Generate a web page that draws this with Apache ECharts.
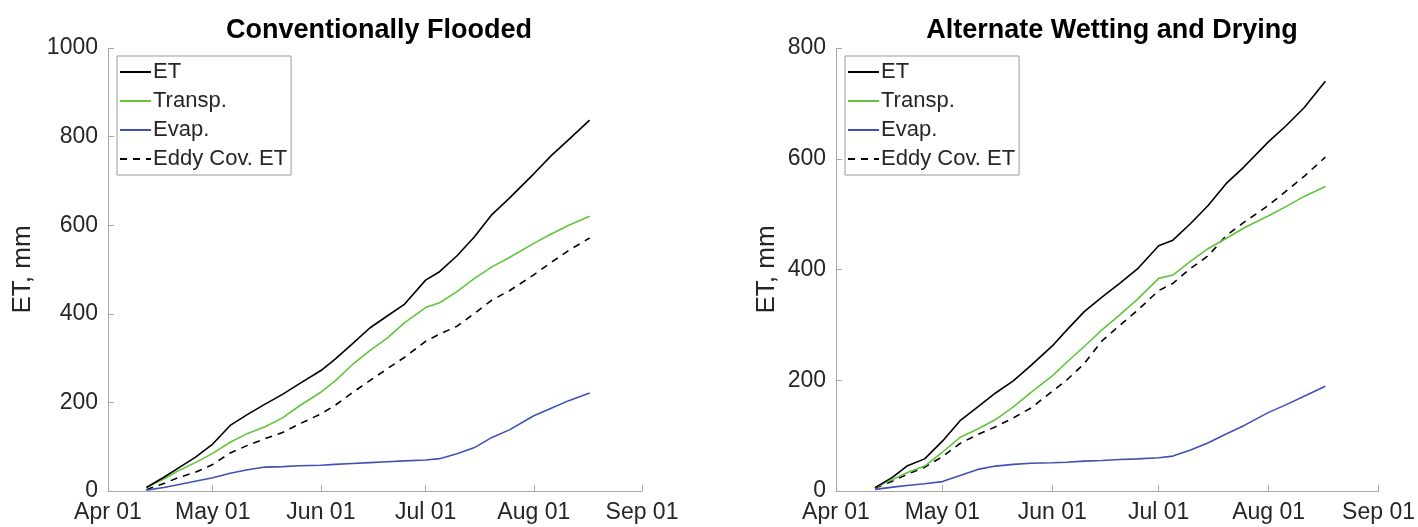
<!DOCTYPE html>
<html lang="en">
<head>
    <meta charset="UTF-8">
    <title>ET partitioning</title>
    <style>
        html, body { margin: 0; padding: 0; background: #fff; }
        #main { width: 1418px; height: 527px; }
    </style>
</head>
<body>
<div id="main"></div>
<script src="https://cdn.jsdelivr.net/npm/echarts@6/dist/echarts.min.js"></script>
<script>
    // sample dates (same for both fields), 2016 season
    var dates = ['04-12', '04-17', '04-21', '04-26', '05-01', '05-06', '05-11', '05-16', '05-21', '05-26',
        '06-01', '06-05', '06-10', '06-15', '06-20', '06-25', '07-01', '07-05', '07-10', '07-15',
        '07-20', '07-25', '08-01', '08-06', '08-11', '08-17'];
    var tickDates = ['04-01', '05-01', '06-01', '07-01', '08-01', '09-01'];
    var tickLabels = ['Apr 01', 'May 01', 'Jun 01', 'Jul 01', 'Aug 01', 'Sep 01'];
    var names = ['ET', 'Transp.', 'Evap.', 'Eddy Cov. ET'];

    // Conventionally Flooded, cumulative mm
    var cfET = [8, 31, 51, 76, 106, 148, 173, 196, 218, 243, 272, 297, 332, 368, 395, 422, 476, 495, 531, 574, 624, 661, 716, 757, 793, 837];
    var cfTransp = [8, 27, 45, 64, 85, 110, 130, 145, 165, 193, 223, 248, 285, 317, 345, 380, 414, 425, 450, 480, 506, 527, 559, 580, 600, 620];
    var cfEvap = [2, 8, 14, 22, 30, 40, 48, 54, 55, 57, 58, 60, 62, 64, 66, 68, 70, 73, 84, 98, 121, 138, 170, 187, 204, 221];
    var cfEddy = [3, 17, 30, 42, 60, 86, 103, 118, 132, 152, 174, 193, 222, 249, 276, 302, 338, 354, 372, 401, 431, 452, 488, 516, 543, 571];

    // Alternate Wetting and Drying, cumulative mm
    var awdET = [6, 25, 45, 58, 90, 127, 152, 177, 199, 227, 262, 290, 324, 350, 375, 401, 443, 453, 483, 516, 555, 585, 631, 660, 692, 740];
    var awdTransp = [6, 21, 33, 45, 70, 97, 112, 129, 152, 178, 208, 232, 261, 291, 318, 346, 384, 390, 415, 438, 456, 475, 497, 514, 532, 550];
    var awdEvap = [3, 7, 10, 13, 17, 28, 39, 45, 48, 50, 51, 52, 54, 55, 57, 58, 60, 63, 74, 87, 103, 118, 142, 156, 171, 189];
    var awdEddy = [5, 18, 30, 43, 62, 86, 102, 116, 132, 150, 180, 200, 230, 271, 299, 326, 362, 375, 402, 425, 461, 485, 516, 542, 568, 603];

    // days since Apr 01
    function dayOf(md) {
        var p = md.split('-');
        return (Date.UTC(2016, +p[0] - 1, +p[1]) - Date.UTC(2016, 3, 1)) / 86400000;
    }
    var xs = dates.map(dayOf);
    var ticks = tickDates.map(dayOf);

    function pairs(vals) {
        return vals.map(function (v, i) { return [xs[i], v]; });
    }

    var font = 'Liberation Sans, Arial, Helvetica, sans-serif';
    var axisColor = '#a8a8a8';
    var textColor = '#262626';
    var colors = ['#000000', '#62c43c', '#3f51b5', '#000000'];

    function xAxis(grid) {
        return {
            type: 'value',
            gridIndex: grid,
            min: ticks[0],
            max: ticks[ticks.length - 1],
            splitLine: { show: false },
            axisLine: { lineStyle: { color: axisColor, width: 1 } },
            axisTick: { inside: true, length: 6, customValues: ticks, lineStyle: { color: axisColor } },
            axisLabel: {
                customValues: ticks,
                margin: 10,
                fontSize: 23,
                fontFamily: font,
                color: textColor,
                formatter: function (v) { return tickLabels[ticks.indexOf(v)]; }
            }
        };
    }

    function yAxis(grid, max, gap) {
        return {
            type: 'value',
            gridIndex: grid,
            min: 0,
            max: max,
            interval: 200,
            name: 'ET, mm',
            nameLocation: 'middle',
            nameGap: gap,
            nameTextStyle: { fontSize: 26, fontFamily: font, color: textColor },
            splitLine: { show: false },
            axisLine: { show: true, lineStyle: { color: axisColor, width: 1 } },
            axisTick: { inside: true, length: 6, lineStyle: { color: axisColor } },
            axisLabel: {
                margin: 10, fontSize: 23, fontFamily: font, color: textColor,
                formatter: function (v) { return String(v); }
            }
        };
    }

    function lines(grid, sets) {
        return sets.map(function (vals, i) {
            return {
                name: names[i],
                type: 'line',
                xAxisIndex: grid,
                yAxisIndex: grid,
                symbol: 'none',
                showSymbol: false,
                color: colors[i],
                lineStyle: { width: 1.6, color: colors[i], type: i === 3 ? [7, 6] : 'solid' },
                data: pairs(vals),
                z: 10 - i
            };
        });
    }

    function legend(left) {
        return {
            data: names,
            orient: 'vertical',
            left: left,
            top: 56,
            icon: 'inherit',
            itemWidth: 31,
            itemHeight: 14,
            itemGap: 7,
            padding: [5, 4, 5, 2],
            borderColor: '#9a9a9a',
            borderWidth: 1,
            backgroundColor: '#fff',
            selectedMode: false,
            itemStyle: { opacity: 0 },
            textStyle: { fontSize: 22, fontFamily: font, color: textColor, lineHeight: 21.5, padding: [0, 0, 0, -3] }
        };
    }

    var option = {
        backgroundColor: '#fff',
        animation: false,
        title: [{
            text: 'Conventionally Flooded',
            left: 374,
            top: 12,
            textAlign: 'center',
            textStyle: { fontSize: 27, fontWeight: 'bold', fontFamily: font, color: '#000' }
        }, {
            text: 'Alternate Wetting and Drying',
            left: 1107,
            top: 12,
            textAlign: 'center',
            textStyle: { fontSize: 27, fontWeight: 'bold', fontFamily: font, color: '#000' }
        }],
        legend: [legend(117), legend(845)],
        grid: [
            { left: 108, top: 48, width: 534, height: 443 },
            { left: 836, top: 48, width: 543, height: 443 }
        ],
        xAxis: [xAxis(0), xAxis(1)],
        yAxis: [yAxis(0, 1000, 72), yAxis(1, 800, 56)],
        series: lines(0, [cfET, cfTransp, cfEvap, cfEddy]).concat(lines(1, [awdET, awdTransp, awdEvap, awdEddy]))
    };

    var myChart = echarts.init(document.getElementById('main'));
    myChart.setOption(option);
</script>
</body>
</html>
